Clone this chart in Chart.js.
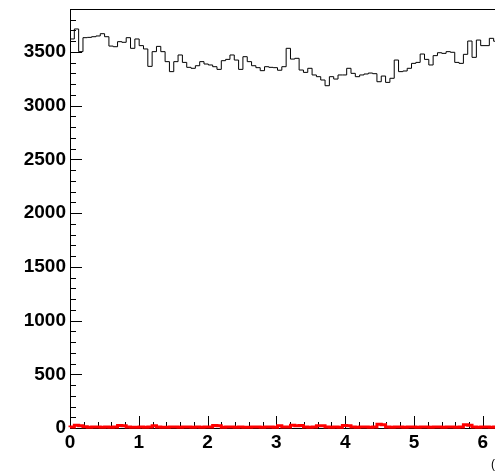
<!DOCTYPE html>
<html><head><meta charset="utf-8">
<script src="https://cdn.jsdelivr.net/npm/chart.js@4"></script>
<style>
html,body{margin:0;padding:0;overflow:hidden;background:#fff;width:495px;height:472px}
#wrap{position:absolute;left:0;top:0;width:540px;height:472px}
</style>
</head><body><div id="wrap"><canvas id="c" width="540" height="472"></canvas></div>
<script>
// ---- data ----
const xRange = [0, 2 * Math.PI];
const nBins = 100;
const blackCounts = [
 3683,3621,3714,3503,3633,3636,3642,3649,3670,3642,
 3555,3549,3596,3590,3633,3534,3621,3559,3528,3366,
 3503,3552,3503,3410,3317,3410,3472,3403,3357,3348,
 3372,3410,3388,3379,3363,3338,3419,3431,3472,3425,
 3338,3456,3410,3372,3354,3326,3363,3357,3354,3330,
 3363,3534,3434,3441,3332,3310,3348,3286,3270,3239,
 3186,3270,3248,3286,3286,3348,3301,3270,3286,3295,
 3304,3298,3223,3276,3217,3255,3425,3317,3323,3348,
 3394,3403,3481,3431,3379,3466,3493,3487,3503,3497,
 3403,3394,3478,3602,3450,3611,3559,3559,3627,3600
];
const redCounts = [
 8,10,25,22,12,8,9,10,7,9,
 8,10,24,20,9,8,7,9,8,10,
 22,9,8,7,10,9,8,10,9,8,
 9,8,10,9,24,20,8,9,10,8,
 9,7,8,10,9,8,9,10,8,22,
 10,9,25,22,24,9,8,10,22,20,
 9,8,10,8,24,20,9,8,10,9,
 8,9,35,30,9,8,10,9,8,10,
 9,8,10,9,8,10,9,8,10,9,
 8,9,30,26,9,8,10,9,8,9
];
const yRange = [0, 3900];
const yTickValues = [0, 500, 1000, 1500, 2000, 2500, 3000, 3500];
const xTickValues = [0, 1, 2, 3, 4, 5, 6];
const xTitle = '(';

// ---- build histogram step points from bins ----
function histPoints(counts) {
  const w = (xRange[1] - xRange[0]) / counts.length;
  const pts = counts.map((v, i) => ({x: xRange[0] + i * w, y: v}));
  pts.push({x: xRange[1], y: counts[counts.length - 1]});
  return pts;
}

const FONT = {family: "'Liberation Sans', Arial, Helvetica, sans-serif", weight: 'bold', size: 19};

const rootFrame = {
  id: 'rootFrame',
  beforeDatasetsDraw(chart) {
    const {ctx, chartArea: a, scales: {x, y}} = chart;
    ctx.save();
    ctx.strokeStyle = '#000';
    ctx.lineWidth = 1;
    ctx.beginPath();
    // top frame
    ctx.moveTo(a.left, a.top + 0.5); ctx.lineTo(a.right, a.top + 0.5);
    ctx.moveTo(a.right - 0.5, a.top); ctx.lineTo(a.right - 0.5, a.bottom);
    // y ticks (inward)
    for (let v = yRange[0]; v <= yRange[1]; v += 100) {
      const py = Math.round(y.getPixelForValue(v)) + 0.5;
      const len = (v % 500 === 0) ? 12 : 6;
      ctx.moveTo(a.left, py); ctx.lineTo(a.left + len, py);
    }
    // x ticks (inward)
    for (let k = 0; k * 0.2 <= xRange[1] + 1e-9; k++) {
      const v = k * 0.2;
      const px = Math.round(x.getPixelForValue(v)) + 0.5;
      const len = (k % 5 === 0) ? 12 : 6;
      ctx.moveTo(px, a.bottom); ctx.lineTo(px, a.bottom - len);
    }
    ctx.stroke();
    // x title (mostly outside the window)
    ctx.fillStyle = '#000';
    ctx.font = "12px 'Liberation Sans', Arial, sans-serif";
    ctx.textBaseline = 'middle';
    ctx.textAlign = 'left';
    ctx.fillText(xTitle, 491, 465);
    ctx.restore();
  }
};

new Chart(document.getElementById('c'), {
  type: 'line',
  data: {
    datasets: [
      {data: histPoints(redCounts), stepped: 'after', borderColor: '#ff0000', borderWidth: 3,
       pointRadius: 0, fill: false, clip: 6},
      {data: histPoints(blackCounts), stepped: 'after', borderColor: '#000000', borderWidth: 1,
       pointRadius: 0, fill: false}
    ]
  },
  options: {
    responsive: false,
    animation: false,
    events: [],
    layout: {padding: {left: 0, top: 9, right: 540 - 502.3, bottom: 0}},
    plugins: {legend: {display: false}, tooltip: {enabled: false}},
    scales: {
      x: {
        type: 'linear', min: xRange[0], max: xRange[1],
        grid: {display: false, drawTicks: false},
        border: {display: true, color: '#000', width: 1},
        ticks: {font: FONT, color: '#000', padding: 3, maxRotation: 0, autoSkip: false,
                callback: v => String(v)},
        afterBuildTicks: s => { s.ticks = xTickValues.map(v => ({value: v})); },
        afterFit: s => { s.height = 44; s.paddingLeft = 0; s.paddingRight = 0; }
      },
      y: {
        type: 'linear', min: yRange[0], max: yRange[1],
        grid: {display: false, drawTicks: false},
        border: {display: true, color: '#000', width: 1},
        ticks: {font: FONT, color: '#000', padding: 4, autoSkip: false,
                callback: v => String(v)},
        afterBuildTicks: s => { s.ticks = yTickValues.map(v => ({value: v})); },
        afterFit: s => { s.width = 70; s.paddingTop = 0; s.paddingBottom = 0; }
      }
    }
  },
  plugins: [rootFrame]
});
</script>
</body></html>
